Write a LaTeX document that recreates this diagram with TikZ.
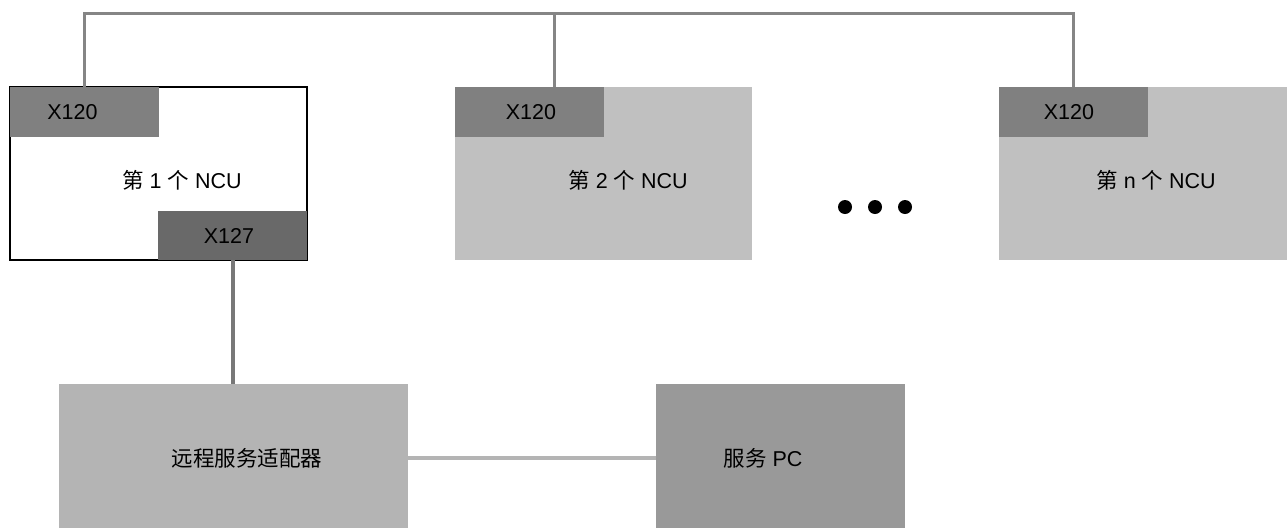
\documentclass[tikz,border=0pt]{standalone}
\usepackage{fontspec}
\setmainfont{Liberation Sans}
\newfontfamily\cjk{Noto Sans CJK SC}
\definecolor{tabgray}{HTML}{808080}
\definecolor{tabdark}{HTML}{696969}
\definecolor{boxgray}{HTML}{C0C0C0}
\definecolor{adgray}{HTML}{B4B4B4}
\definecolor{pcgray}{HTML}{999999}
\definecolor{linegray}{HTML}{858585}
\begin{document}
\begin{tikzpicture}[x=1pt,y=-1pt,
  box/.style={anchor=north west,inner sep=0pt,outer sep=0pt,minimum width=297pt,minimum height=173pt},
  tab/.style={anchor=north west,inner sep=0pt,outer sep=0pt,minimum width=149pt,minimum height=50pt,fill=tabgray},
  lbl/.style={font=\fontsize{21.5}{26}\selectfont,inner sep=0pt},
  bus/.style={draw=linegray,line width=3pt},
  dot/.style={circle,fill=black,inner sep=0pt,minimum size=14pt}]
\useasboundingbox (0,0) rectangle (1287,528);
\begin{scope}
\clip (0,0) rectangle (1287,528);
% NCU boxes
\node[box,draw=black,line width=1.2pt,fill=white] (ncu1) at (10,87) {};
\node[box,fill=boxgray] (ncu2) at (455,87) {};
\node[box,fill=boxgray] (ncun) at (999,87) {};
% tabs
\node[tab] (tab1) at (10,87) {};
\node[tab] (tab2) at (455,87) {};
\node[tab] (tabn) at (999,87) {};
\node[tab,fill=tabdark,minimum height=49pt] (x127) at (158,211) {};
\node[lbl] (t1) at (72.5,112) {X120};
\node[lbl] (t2) at (531,112) {X120};
\node[lbl] (tn) at (1069,112) {X120};
\node[lbl] (t127) at (229,236) {X127};
% labels
\node[lbl] (l1) at (182,180) {{\cjk 第} 1 {\cjk 个} NCU};
\node[lbl] (l2) at (628,180) {{\cjk 第} 2 {\cjk 个} NCU};
\node[lbl] (ln) at (1156,180) {{\cjk 第} n {\cjk 个} NCU};
% dots
\node[dot] (d1) at (845,207) {};
\node[dot] (d2) at (875,207) {};
\node[dot] (d3) at (905,207) {};
% bottom boxes
\node[anchor=north west,inner sep=0pt,minimum width=349pt,minimum height=144pt,fill=adgray] (adapter) at (59,384) {};
\node[lbl] (adlbl) at (247,458) {\cjk 远程服务适配器};
\node[anchor=north west,inner sep=0pt,minimum width=249pt,minimum height=144pt,fill=pcgray] (pc) at (656,384) {};
\node[lbl] (pclbl) at (763,458) {{\cjk 服务} PC};
% bus
\coordinate (bus) at (0,13);
\coordinate (p2) at (554,87);
\draw[bus] (tab1.north) |- (bus -| tabn.north) -- (tabn.north);
\draw[bus] (p2) -- (p2 |- bus);
\draw[draw=tabdark!90,line width=4pt] (x127.south) -- (x127.south |- adapter.north);
\draw[draw=adgray,line width=4pt] (adapter.east |- 0,458) -- (pc.west |- 0,458);
\end{scope}
\end{tikzpicture}
\end{document}
